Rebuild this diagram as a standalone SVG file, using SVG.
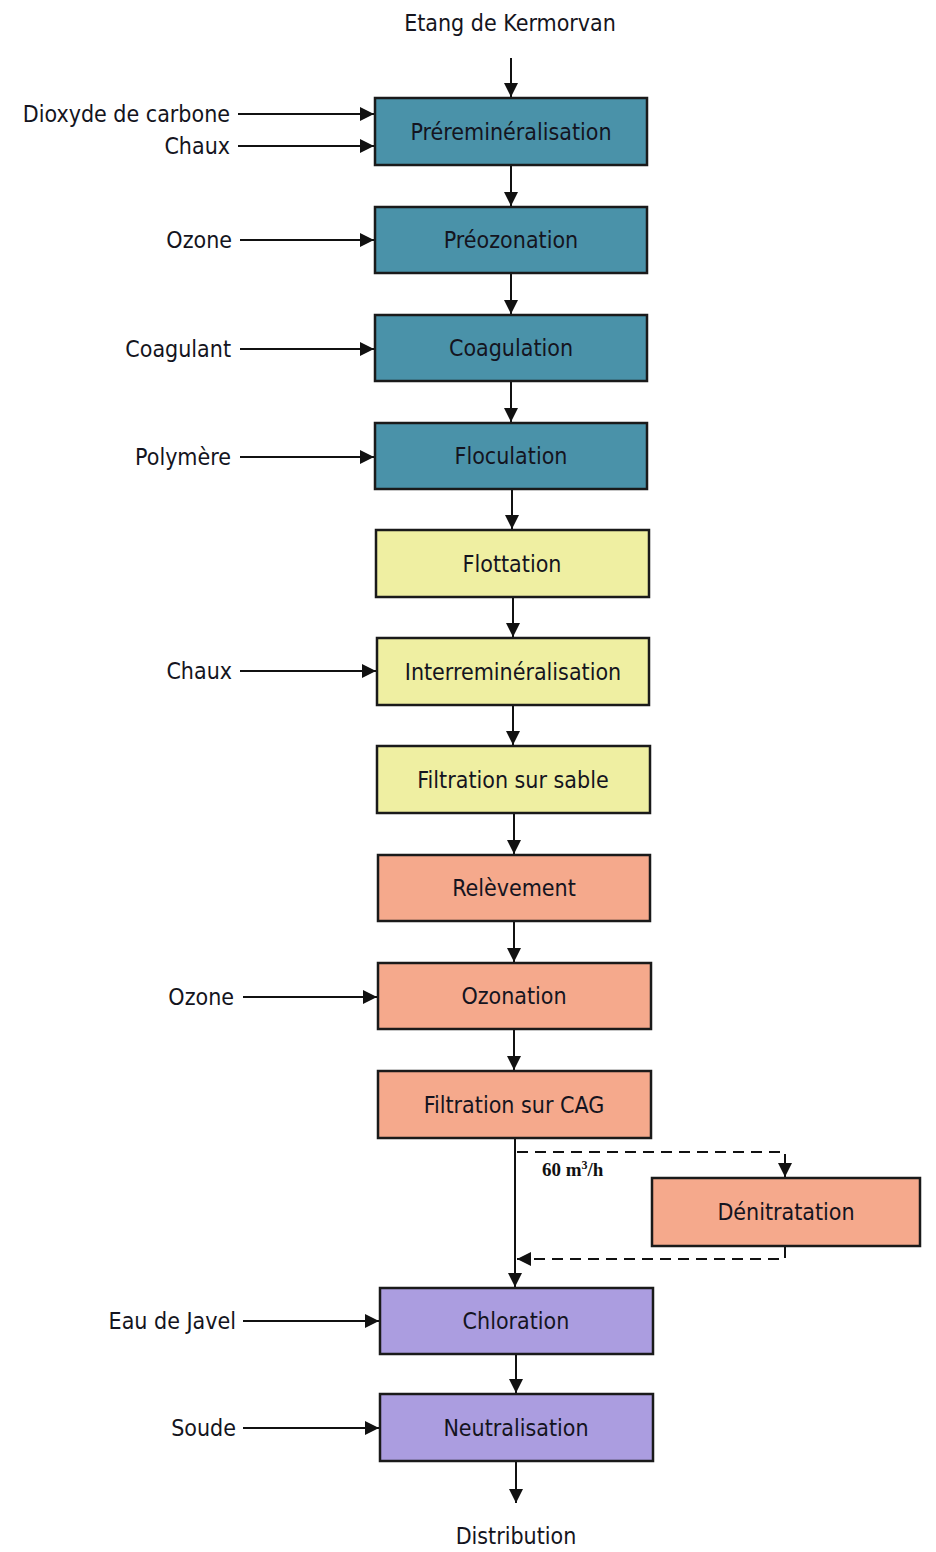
<svg xmlns="http://www.w3.org/2000/svg" width="936" height="1552" viewBox="0 0 936 1552">
<style>
.t{font-family:"DejaVu Sans Condensed","DejaVu Sans",sans-serif;font-stretch:condensed;font-size:23px;fill:#141420}
.c{text-anchor:middle}
.r{text-anchor:end}
.box{stroke:#1a1a1a;stroke-width:2.5}
.teal{fill:#4a92a9}
.yel{fill:#efefa2}
.sal{fill:#f5a98c}
.pur{fill:#ab9de0}
.ln{stroke:#111;stroke-width:2;fill:none}
.dash{stroke:#111;stroke-width:2;fill:none;stroke-dasharray:11 7}
.q{font-family:"Liberation Serif",serif;font-weight:bold;font-size:19px;fill:#111}
</style>
<defs>
<marker id="ah" viewBox="0 0 14 14" refX="14" refY="7" markerWidth="14" markerHeight="14" markerUnits="userSpaceOnUse" orient="auto">
<path d="M0,0 L14,7 L0,14 Z" fill="#111"/>
</marker>
</defs>
<rect width="936" height="1552" fill="#ffffff"/>
<g id="connectors">
<line class="ln" x1="511" y1="58" x2="511" y2="97" marker-end="url(#ah)"/>
<line class="ln" x1="238" y1="114" x2="374" y2="114" marker-end="url(#ah)"/>
<line class="ln" x1="238" y1="146" x2="374" y2="146" marker-end="url(#ah)"/>
<line class="ln" x1="511" y1="166" x2="511" y2="206" marker-end="url(#ah)"/>
<line class="ln" x1="240" y1="240" x2="374" y2="240" marker-end="url(#ah)"/>
<line class="ln" x1="511" y1="274" x2="511" y2="314" marker-end="url(#ah)"/>
<line class="ln" x1="240" y1="349" x2="374" y2="349" marker-end="url(#ah)"/>
<line class="ln" x1="511" y1="382" x2="511" y2="422" marker-end="url(#ah)"/>
<line class="ln" x1="240" y1="457" x2="374" y2="457" marker-end="url(#ah)"/>
<line class="ln" x1="512" y1="490" x2="512" y2="529" marker-end="url(#ah)"/>
<line class="ln" x1="513" y1="598" x2="513" y2="637" marker-end="url(#ah)"/>
<line class="ln" x1="240" y1="671" x2="376" y2="671" marker-end="url(#ah)"/>
<line class="ln" x1="513" y1="706" x2="513" y2="745" marker-end="url(#ah)"/>
<line class="ln" x1="514" y1="814" x2="514" y2="854" marker-end="url(#ah)"/>
<line class="ln" x1="514" y1="922" x2="514" y2="962" marker-end="url(#ah)"/>
<line class="ln" x1="243" y1="997" x2="377" y2="997" marker-end="url(#ah)"/>
<line class="ln" x1="514" y1="1030" x2="514" y2="1070" marker-end="url(#ah)"/>
<line class="ln" x1="515" y1="1139" x2="515" y2="1287" marker-end="url(#ah)"/>
<polyline class="dash" points="517,1152 785,1152 785,1177" marker-end="url(#ah)"/>
<polyline class="dash" points="785,1247 785,1259 517,1259" marker-end="url(#ah)"/>
<line class="ln" x1="243" y1="1321" x2="379" y2="1321" marker-end="url(#ah)"/>
<line class="ln" x1="516" y1="1355" x2="516" y2="1393" marker-end="url(#ah)"/>
<line class="ln" x1="243" y1="1428" x2="379" y2="1428" marker-end="url(#ah)"/>
<line class="ln" x1="516" y1="1462" x2="516" y2="1503" marker-end="url(#ah)"/>
</g>
<g id="labels">
<text class="t c" x="510" y="31">Etang de Kermorvan</text>
<text class="t r" x="230" y="122">Dioxyde de carbone</text>
<text class="t r" x="230" y="154">Chaux</text>
<text class="t r" x="232" y="248">Ozone</text>
<text class="t r" x="231" y="357">Coagulant</text>
<text class="t r" x="231" y="465">Polymère</text>
<text class="t r" x="232" y="679">Chaux</text>
<text class="t r" x="234" y="1005">Ozone</text>
<text class="t r" x="236" y="1329">Eau de Javel</text>
<text class="t r" x="236" y="1436">Soude</text>
<text class="t c" x="516" y="1544">Distribution</text>
<text class="q" x="542" y="1176">60 m<tspan font-size="12" dy="-7">3</tspan><tspan dy="7">/h</tspan></text>
</g>
<g id="n1"><rect class="box teal" x="375" y="98" width="272" height="67"/><text class="t c" x="511" y="140">Préreminéralisation</text></g>
<g id="n2"><rect class="box teal" x="375" y="207" width="272" height="66"/><text class="t c" x="511" y="248">Préozonation</text></g>
<g id="n3"><rect class="box teal" x="375" y="315" width="272" height="66"/><text class="t c" x="511" y="356">Coagulation</text></g>
<g id="n4"><rect class="box teal" x="375" y="423" width="272" height="66"/><text class="t c" x="511" y="464">Floculation</text></g>
<g id="n5"><rect class="box yel" x="376" y="530" width="273" height="67"/><text class="t c" x="512" y="572">Flottation</text></g>
<g id="n6"><rect class="box yel" x="377" y="638" width="272" height="67"/><text class="t c" x="513" y="680">Interreminéralisation</text></g>
<g id="n7"><rect class="box yel" x="377" y="746" width="273" height="67"/><text class="t c" x="513" y="788">Filtration sur sable</text></g>
<g id="n8"><rect class="box sal" x="378" y="855" width="272" height="66"/><text class="t c" x="514" y="896">Relèvement</text></g>
<g id="n9"><rect class="box sal" x="378" y="963" width="273" height="66"/><text class="t c" x="514" y="1004">Ozonation</text></g>
<g id="n10"><rect class="box sal" x="378" y="1071" width="273" height="67"/><text class="t c" x="514" y="1113">Filtration sur CAG</text></g>
<g id="n11"><rect class="box sal" x="652" y="1178" width="268" height="68"/><text class="t c" x="786" y="1220">Dénitratation</text></g>
<g id="n12"><rect class="box pur" x="380" y="1288" width="273" height="66"/><text class="t c" x="516" y="1329">Chloration</text></g>
<g id="n13"><rect class="box pur" x="380" y="1394" width="273" height="67"/><text class="t c" x="516" y="1436">Neutralisation</text></g>
</svg>
